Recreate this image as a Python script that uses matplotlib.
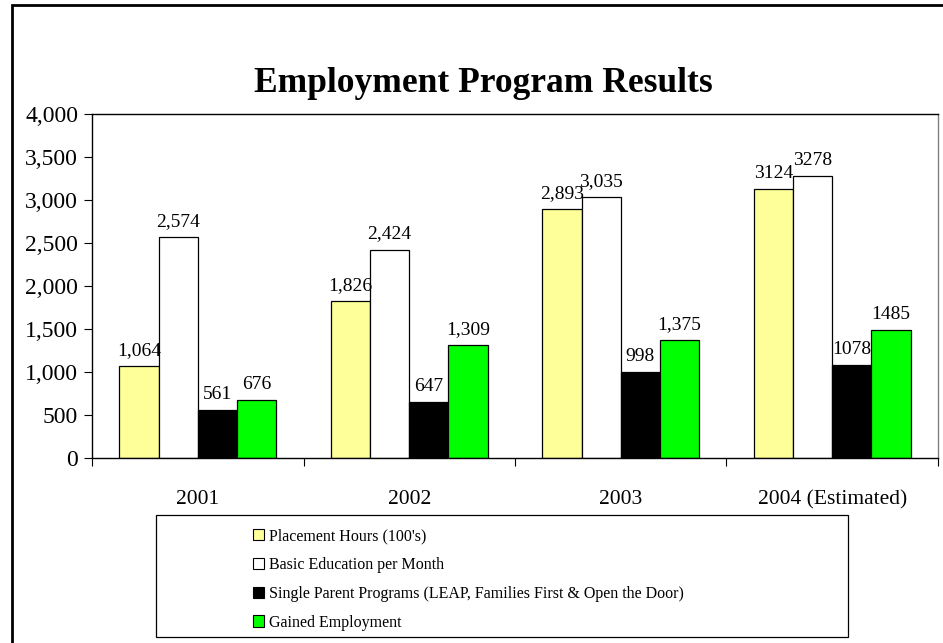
import matplotlib
matplotlib.use("Agg")
import matplotlib.pyplot as plt
from matplotlib.patches import Rectangle, Patch
from matplotlib.ticker import FuncFormatter, FixedLocator, NullFormatter
import numpy as np

plt.rcParams['font.family'] = ['Liberation Serif', 'DejaVu Serif']

years = ["2001", "2002", "2003", "2004 (Estimated)"]
series_names = [
    "Placement Hours (100's)",
    "Basic Education per Month",
    "Single Parent Programs (LEAP, Families First & Open the Door)",
    "Gained Employment",
]
placement = [1064, 1826, 2893, 3124]
basic_edu = [2574, 2424, 3035, 3278]
single_parent = [561, 647, 998, 1078]
gained = [676, 1309, 1375, 1485]
value_labels = [
    ["1,064", "1,826", "2,893", "3124"],
    ["2,574", "2,424", "3,035", "3278"],
    ["561", "647", "998", "1078"],
    ["676", "1,309", "1,375", "1485"],
]
colors = ["#FFFF99", "#FFFFFF", "#000000", "#00FF00"]

W, H = 943, 643
fig = plt.figure(figsize=(W / 100, H / 100), dpi=100)

# outer frame
fig.add_artist(Rectangle((12 / W, -0.05), 1.1, 1 - 5 / H + 0.05,
                         transform=fig.transFigure, fill=False,
                         edgecolor="black", linewidth=2))

ax = fig.add_axes([92 / W, 1 - 458 / H, (938 - 92) / W, (458 - 114) / H])

x = np.arange(len(years))
bw = 0.185
data = [placement, basic_edu, single_parent, gained]
for i, (vals, c) in enumerate(zip(data, colors)):
    pos = x + (i - 1.5) * bw
    ax.bar(pos, vals, width=bw, color=c, edgecolor="black", linewidth=0.9)
    for p, v, lab in zip(pos, vals, value_labels[i]):
        ax.annotate(lab, (p, v), xytext=(0, 5), textcoords="offset points",
                    ha="center", va="bottom", fontsize=14)

ax.set_xlim(-0.5, len(years) - 0.5)
ax.set_ylim(0, 4000)
ax.set_yticks(np.arange(0, 4001, 500))
ax.yaxis.set_major_formatter(FuncFormatter(lambda v, _: f"{int(v):,}"))
ax.tick_params(axis="y", labelsize=17, length=6, direction="out", pad=4)

ax.xaxis.set_major_locator(FixedLocator(np.arange(-0.5, len(years), 1.0)))
ax.xaxis.set_major_formatter(NullFormatter())
ax.xaxis.set_minor_locator(FixedLocator(x))
ax.set_xticklabels(years, minor=True)
ax.tick_params(axis="x", which="major", length=6, direction="out")
ax.tick_params(axis="x", which="minor", length=0, labelsize=15.5, pad=23)

for s in ["left", "bottom", "top"]:
    ax.spines[s].set_linewidth(1.0)
    ax.spines[s].set_color("black")
ax.spines["right"].set_color("#808080")
ax.spines["right"].set_linewidth(1.0)

fig.text(483 / W, 1 - 84 / H, "Employment Program Results",
         ha="center", va="center", fontsize=25.5, fontweight="bold")

# legend box
fig.add_artist(Rectangle((156 / W, 1 - 637 / H), (848 - 156) / W, (637 - 515) / H,
                         transform=fig.transFigure, fill=False,
                         edgecolor="black", linewidth=0.9))
handles = [Patch(facecolor=c, edgecolor="black", linewidth=0.8) for c in colors]
fig.legend(handles, series_names, loc="upper left",
           bbox_to_anchor=(242 / W, 1 - 517 / H), frameon=False,
           fontsize=11.5, handlelength=0.7, handleheight=0.7,
           handletextpad=0.3, labelspacing=0.8, borderpad=0.2)

fig.savefig("out.png", dpi=100)
